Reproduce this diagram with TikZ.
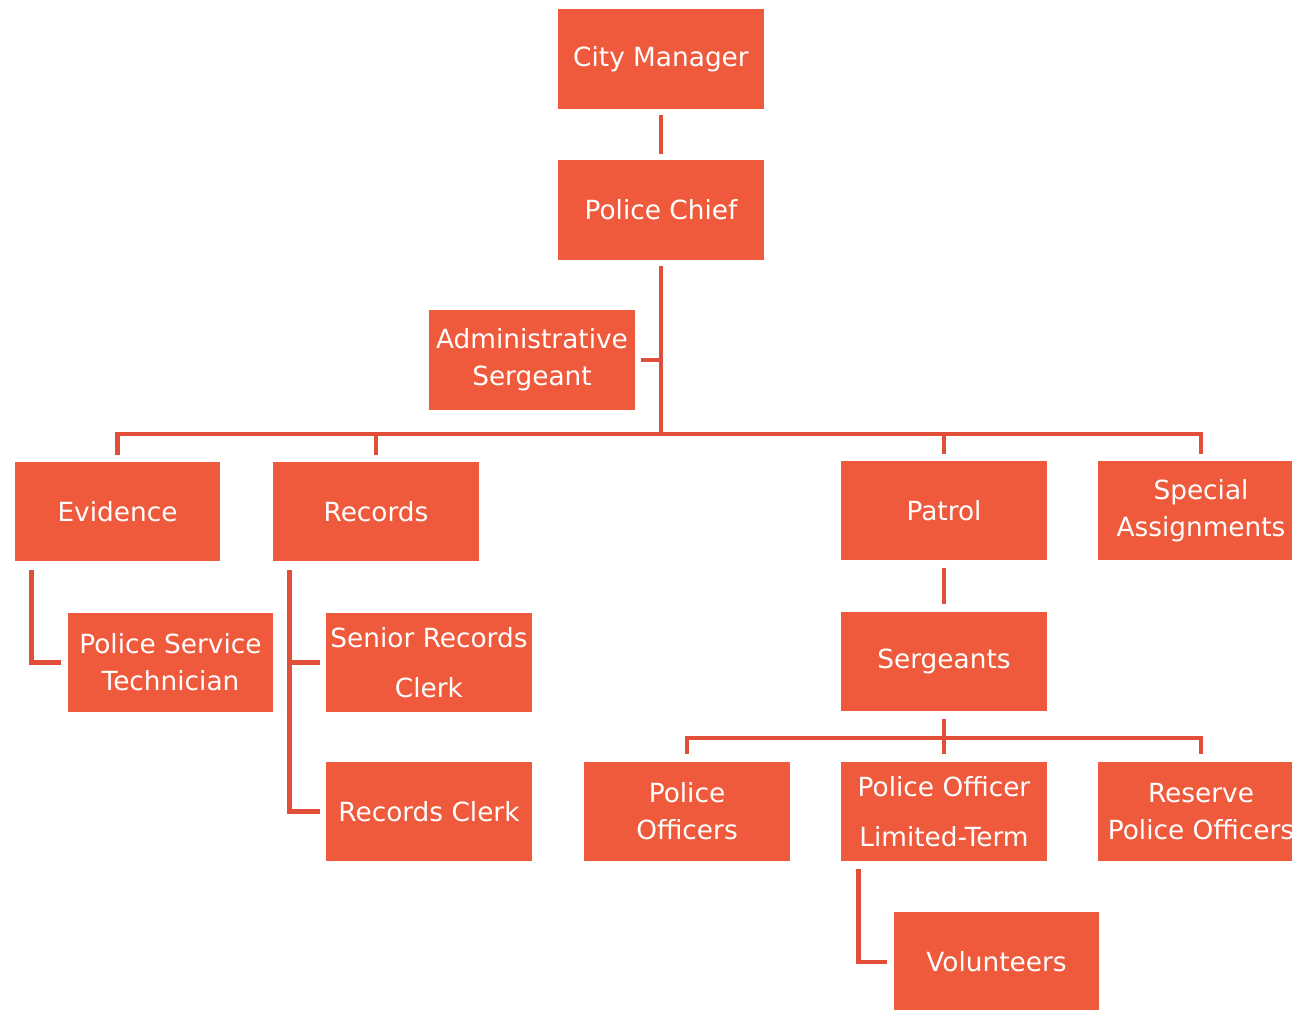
\documentclass[tikz,border=0pt]{standalone}
\usepackage{fontspec}
\setmainfont{DejaVu Sans}
\usetikzlibrary{calc}
\definecolor{boxfill}{RGB}{240,90,60}
\definecolor{linkred}{RGB}{226,78,56}
\begin{document}
\begin{tikzpicture}[x=0.02cm,y=-0.02cm,
  unit/.style={rectangle, fill=boxfill, minimum width=4.12cm, minimum height=2cm,
    inner sep=0pt, text=white, align=center, font=\fontsize{15}{21}\selectfont},
  link/.style={draw=linkred, line width=2.8pt}]
\useasboundingbox (0,0) rectangle (1292,1010);
\begin{scope}
\clip (0,0) rectangle (1292,1010);
% units
\node[unit] (cm)   at (661,59)    {City Manager};
\node[unit] (pc)   at (661,210)   {Police Chief};
\node[unit] (as)   at (532,360)   {Administrative\\Sergeant};
\node[unit] (ev)   at (117.5,511.5) {Evidence};
\node[unit] (re)   at (376,511.5) {Records};
\node[unit] (pa)   at (944,510.5) {Patrol};
\node[unit] (sa)   at (1201,510.5) {Special\\Assignments};
\node[unit] (pst)  at (170.5,662.5) {Police Service\\Technician};
\node[unit] (src)  at (429,662.5) {Senior Records\\[0.26cm]Clerk};
\node[unit] (rc)   at (429,811.5) {Records Clerk};
\node[unit] (sg)   at (944,661.5) {Sergeants};
\node[unit] (po)   at (687,811.5) {Police\\Officers};
\node[unit] (polt) at (944,811.5) {Police Officer\\[0.26cm]Limited-Term};
\node[unit] (rpo)  at (1201,811.5) {Reserve\\Police Officers};
\node[unit] (vo)   at (996.5,962) {Volunteers};
% bus lines
\coordinate (bus)  at (661,434);
\coordinate (sbus) at (943,738);
% chief chain
\draw[link] ([yshift=-0.12cm]cm.south) -- ([yshift=0.12cm]pc.north);
\draw[link] ([yshift=-0.12cm]pc.south) -- (pc.south |- bus);
\draw[link] ([xshift=0.12cm]as.east) -- (as.east -| pc.south);
% division bus
\draw[link] ([yshift=0.12cm]ev.north) -- (ev.north |- bus) -- (sa.north |- bus) -- ([yshift=0.12cm]sa.north);
\draw[link] (re.north |- bus) -- ([yshift=0.12cm]re.north);
\draw[link] (pa.north |- bus) -- ([yshift=0.12cm]pa.north);
% evidence
\draw[link] ([shift={(0.34cm,-0.16cm)}]ev.south west) |- ([xshift=-0.12cm]pst.west);
% records
\coordinate (rtrunk) at ([shift={(0.34cm,-0.16cm)}]re.south west);
\draw[link] (rtrunk) |- ([xshift=-0.12cm]rc.west);
\draw[link] (rtrunk |- src.west) -- ([xshift=-0.12cm]src.west);
% patrol
\draw[link] ([yshift=-0.14cm]pa.south) -- ([yshift=0.14cm]sg.north);
\draw[link] ([yshift=-0.14cm]sg.south) -- ([yshift=0.14cm]polt.north);
\draw[link] ([yshift=0.14cm]po.north) -- (po.north |- sbus) -- (rpo.north |- sbus) -- ([yshift=0.14cm]rpo.north);
\draw[link] ([shift={(0.36cm,-0.14cm)}]polt.south west) |- ([xshift=-0.12cm]vo.west);
\end{scope}
\end{tikzpicture}
\end{document}
